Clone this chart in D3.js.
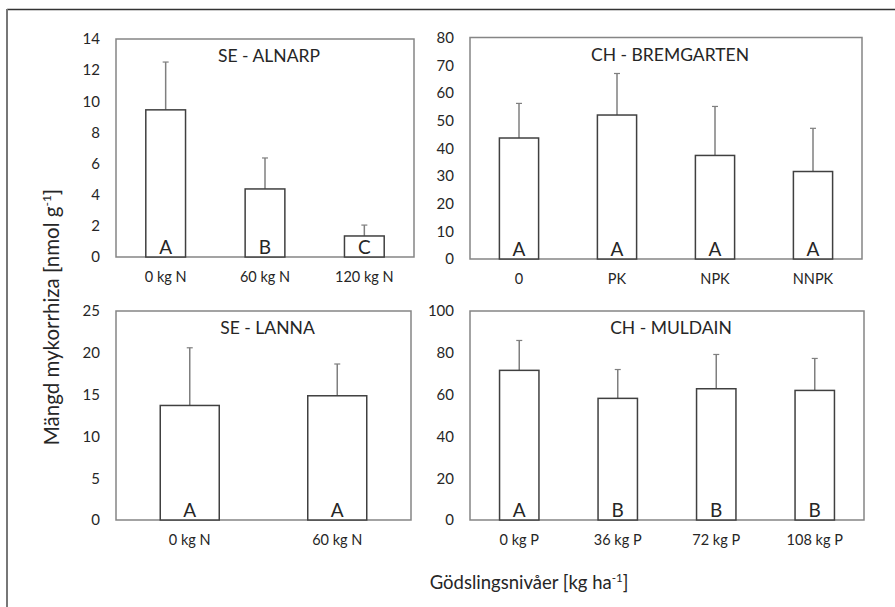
<!DOCTYPE html>
<html>
<head>
<meta charset="utf-8">
<script src="https://cdn.jsdelivr.net/npm/d3@7"></script>
<style>
  body { margin: 0; background: #fff; }
  text { font-family: Lato, "Open Sans", sans-serif; fill: #262626; }
</style>
</head>
<body>
<script>
// data (means and upward SD)
var alnarpCats = ["0 kg N", "60 kg N", "120 kg N"],
    alnarpMean = [9.45, 4.37, 1.35],
    alnarpSd = [3.07, 1.99, 0.70],
    alnarpLetters = ["A", "B", "C"];

var bremCats = ["0", "PK", "NPK", "NNPK"],
    bremMean = [43.7, 52.0, 37.4, 31.6],
    bremSd = [12.5, 15.0, 17.7, 15.6],
    bremLetters = ["A", "A", "A", "A"];

var lannaCats = ["0 kg N", "60 kg N"],
    lannaMean = [13.7, 14.86],
    lannaSd = [6.9, 3.8],
    lannaLetters = ["A", "A"];

var muldCats = ["0 kg P", "36 kg P", "72 kg P", "108 kg P"],
    muldMean = [71.6, 58.2, 62.8, 62.0],
    muldSd = [14.3, 13.8, 16.4, 15.3],
    muldLetters = ["A", "B", "B", "B"];

var titles = ["SE - ALNARP", "CH - BREMGARTEN", "SE - LANNA", "CH - MULDAIN"],
    yMaxes = [14, 80, 25, 100],
    ySteps = [2, 10, 5, 20];

var w = 895,
    h = 607;

// panel boxes: left, top, right, bottom
var boxes = [
    [116, 39, 414, 257],
    [470, 37.5, 862, 259],
    [116, 311, 411, 520],
    [470, 311, 864, 520]
];

var panels = [
    { cats: alnarpCats, mean: alnarpMean, sd: alnarpSd, letters: alnarpLetters },
    { cats: bremCats, mean: bremMean, sd: bremSd, letters: bremLetters },
    { cats: lannaCats, mean: lannaMean, sd: lannaSd, letters: lannaLetters },
    { cats: muldCats, mean: muldMean, sd: muldSd, letters: muldLetters }
];

var svg = d3.select("body")
    .append("svg")
    .attr("width", w)
    .attr("height", h);

// outer frame (only top and left edges show)
svg.append("line")
    .attr("x1", 7).attr("x2", w)
    .attr("y1", 9.5).attr("y2", 9.5)
    .style("stroke", "#333").style("stroke-width", 1.5);
svg.append("line")
    .attr("x1", 7).attr("x2", 7)
    .attr("y1", 9).attr("y2", h)
    .style("stroke", "#777").style("stroke-width", 2);

panels.forEach(function(p, k) {
    var b = boxes[k];
    var g = svg.append("g");

    var x = d3.scaleBand()
        .domain(p.cats)
        .range([b[0], b[2]])
        .paddingInner(0.6)
        .paddingOuter(0.3);

    var y = d3.scaleLinear()
        .domain([0, yMaxes[k]])
        .range([b[3], b[1]]);

    // y tick labels
    var yAxis = g.append("g")
        .attr("transform", "translate(" + b[0] + ",0)")
        .call(d3.axisLeft(y)
            .tickValues(d3.range(0, yMaxes[k] + 0.001, ySteps[k]))
            .tickSize(0)
            .tickPadding(16));
    yAxis.select(".domain").remove();
    yAxis.selectAll("text")
        .style("font-size", "15px")
        .style("font-family", "Lato, sans-serif")
        .style("fill", "#262626");

    // x category labels
    var xAxis = g.append("g")
        .attr("transform", "translate(0," + b[3] + ")")
        .call(d3.axisBottom(x).tickSize(0).tickPadding(15));
    xAxis.select(".domain").remove();
    xAxis.selectAll("text")
        .style("font-size", "14.5px")
        .style("font-family", "Lato, sans-serif")
        .style("fill", "#262626");

    // plot box
    g.append("rect")
        .attr("x", b[0])
        .attr("y", b[1])
        .attr("width", b[2] - b[0])
        .attr("height", b[3] - b[1])
        .style("fill", "none")
        .style("stroke", "#858585")
        .style("stroke-width", 1.5);

    // error bars (upper only)
    var idx = d3.range(p.cats.length);
    g.selectAll("line.err")
        .data(idx)
        .enter()
        .append("line")
        .attr("x1", function(i) { return x(p.cats[i]) + x.bandwidth() / 2; })
        .attr("x2", function(i) { return x(p.cats[i]) + x.bandwidth() / 2; })
        .attr("y1", function(i) { return y(p.mean[i]); })
        .attr("y2", function(i) { return y(p.mean[i] + p.sd[i]); })
        .style("stroke", "#7f7f7f")
        .style("stroke-width", 1.5);
    g.selectAll("line.cap")
        .data(idx)
        .enter()
        .append("line")
        .attr("x1", function(i) { return x(p.cats[i]) + x.bandwidth() / 2 - 3; })
        .attr("x2", function(i) { return x(p.cats[i]) + x.bandwidth() / 2 + 3; })
        .attr("y1", function(i) { return y(p.mean[i] + p.sd[i]); })
        .attr("y2", function(i) { return y(p.mean[i] + p.sd[i]); })
        .style("stroke", "#7f7f7f")
        .style("stroke-width", 1.2);

    // bars
    g.selectAll("rect.bar")
        .data(idx)
        .enter()
        .append("rect")
        .attr("x", function(i) { return x(p.cats[i]); })
        .attr("y", function(i) { return y(p.mean[i]); })
        .attr("width", x.bandwidth())
        .attr("height", function(i) { return b[3] - y(p.mean[i]); })
        .style("fill", "#fff")
        .style("stroke", "#404040")
        .style("stroke-width", 1.5);

    // significance letters
    g.selectAll("text.letter")
        .data(idx)
        .enter()
        .append("text")
        .attr("x", function(i) { return x(p.cats[i]) + x.bandwidth() / 2; })
        .attr("y", b[3] - 3)
        .attr("text-anchor", "middle")
        .style("font-size", "19px")
        .text(function(i) { return p.letters[i]; });

    // panel title
    g.append("text")
        .attr("x", (b[0] + b[2]) / 2 + 4)
        .attr("y", b[1] + 23)
        .attr("text-anchor", "middle")
        .style("font-size", "17.5px")
        .text(titles[k]);
});

// axis titles
var yt = svg.append("text")
    .attr("transform", "translate(59,317) rotate(-90)")
    .attr("text-anchor", "middle")
    .style("font-size", "20.5px");
yt.append("tspan").text("Mängd mykorrhiza [nmol g");
yt.append("tspan").attr("dy", -8).style("font-size", "12px").text("-1");
yt.append("tspan").attr("dy", 8).text("]");

var xt = svg.append("text")
    .attr("x", 529)
    .attr("y", 589)
    .attr("text-anchor", "middle")
    .style("font-size", "18.5px");
xt.append("tspan").text("Gödslingsnivåer [kg ha");
xt.append("tspan").attr("dy", -7).style("font-size", "11.5px").text("-1");
xt.append("tspan").attr("dy", 7).text("]");
</script>
</body>
</html>
